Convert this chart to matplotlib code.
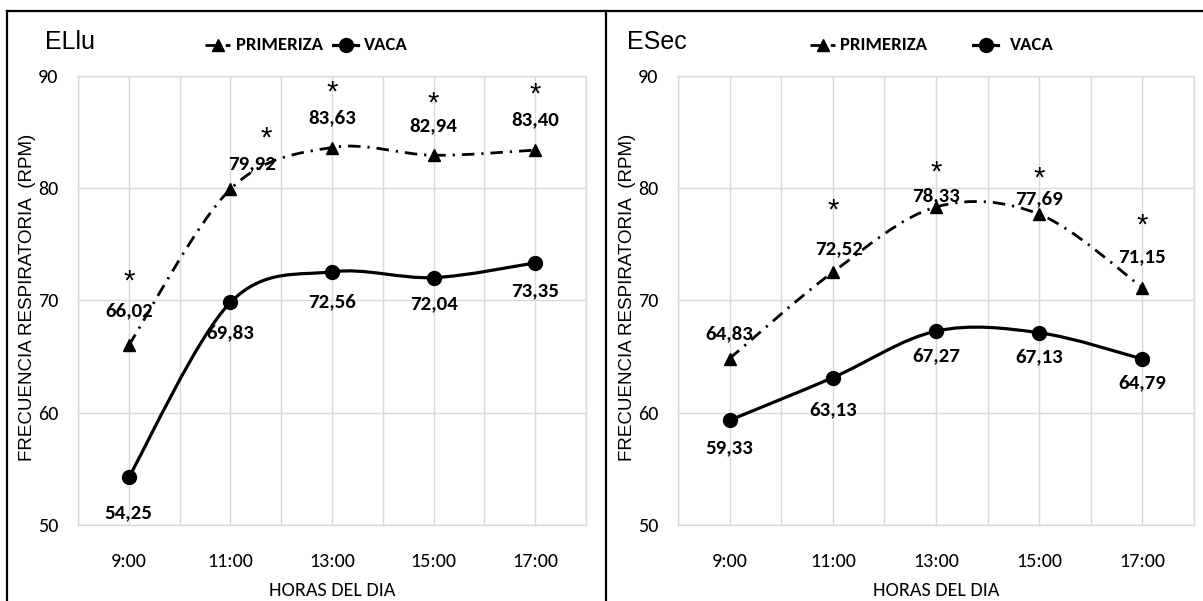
import os
import numpy as np
import matplotlib
matplotlib.use('Agg')
import matplotlib.pyplot as plt
from matplotlib.path import Path
from matplotlib.patches import PathPatch
from matplotlib.lines import Line2D
from matplotlib import font_manager
from matplotlib.font_manager import FontProperties

# ---------------- data ----------------
hours = ['9:00', '11:00', '13:00', '15:00', '17:00']
ellu_primeriza = [66.02, 79.92, 83.63, 82.94, 83.40]
ellu_vaca = [54.25, 69.83, 72.56, 72.04, 73.35]
esec_primeriza = [64.83, 72.52, 78.33, 77.69, 71.15]
esec_vaca = [59.33, 63.13, 67.27, 67.13, 64.79]
ellu_signif = [True, True, True, True, True]
esec_signif = [False, True, True, True, True]
y_ticks = [50, 60, 70, 80, 90]
panel_titles = ['ELlu', 'ESec']
series_names = ['PRIMERIZA', 'VACA']
ylabel_text = 'FRECUENCIA RESPIRATORIA  (RPM)'
xlabel_text = 'HORAS DEL DIA'

# ---------------- fonts ----------------
W, H = 1203, 601
files = {os.path.basename(f.fname).lower(): f.fname for f in font_manager.fontManager.ttflist}

candidates = [  # (regular file, bold file, size scale)
    ('carlito-regular.ttf', 'carlito-bold.ttf', 1.0),
    ('liberationsansnarrow-regular.ttf', 'liberationsansnarrow-bold.ttf', 0.93),
    ('robotocondensed-regular.ttf', 'robotocondensed-bold.ttf', 0.93),
    ('dejavusanscondensed.ttf', 'dejavusanscondensed-bold.ttf', 0.82),
]
NARROW_REG = NARROW_BOLD = None
SC = 0.86
for reg, bold, sc in candidates:
    if reg in files and bold in files:
        NARROW_REG, NARROW_BOLD, SC = files[reg], files[bold], sc
        break


def nfont(size, bold=False):
    if NARROW_REG is None:
        return FontProperties(family=['Liberation Sans', 'DejaVu Sans'], size=size * SC,
                              weight='bold' if bold else 'normal')
    return FontProperties(fname=NARROW_BOLD if bold else NARROW_REG, size=size * SC)


ARIAL = ['Liberation Sans', 'DejaVu Sans']
GRID = '#d9d9d9'
INK = 'black'

# label offsets (pixels) for each point
ellu_p_off = [(0, 34), (22, 25), (0, 30), (0, 30), (0, 30)]
ellu_p_star = [(0, 64), (36, 51), (0, 55), (0, 52), (0, 56)]
ellu_v_off = [(0, -35), (0, -30), (0, -30), (0, -26), (0, -28)]
esec_p_off = [(0, 25), (6, 24), (0, 11), (0, 15), (0, 31)]
esec_p_star = [(0, 58), (0, 62), (0, 34), (0, 36), (0, 62)]
esec_v_off = [(0, -27), (0, -32), (0, -25), (0, -24), (0, -24)]

panels = [
    dict(rect=(78, 76, 586, 525), title=panel_titles[0], title_x=45,
         prim=ellu_primeriza, vaca=ellu_vaca, signif=ellu_signif,
         p_off=ellu_p_off, p_star=ellu_p_star, v_off=ellu_v_off,
         ylab_x=28, leg=[(205, 236), (333, 364)]),
    dict(rect=(678, 76, 1194, 525), title=panel_titles[1], title_x=627,
         prim=esec_primeriza, vaca=esec_vaca, signif=esec_signif,
         p_off=esec_p_off, p_star=esec_p_star, v_off=esec_v_off,
         ylab_x=628, leg=[(810, 840), (973, 1010)]),
]


def fx(px):
    return px / W


def fy(py):
    return 1 - py / H


def fmt(v):
    return f'{v:.2f}'.replace('.', ',')


def smooth_path(xs, ys):
    pts = np.column_stack([xs, ys]).astype(float)
    n = len(pts)
    verts = [pts[0]]
    codes = [Path.MOVETO]
    for i in range(n - 1):
        p0 = pts[i - 1] if i > 0 else pts[i]
        p1 = pts[i]
        p2 = pts[i + 1]
        p3 = pts[i + 2] if i + 2 < n else pts[i + 1]
        c1 = p1 + (p2 - p0) / 6.0
        c2 = p2 - (p3 - p1) / 6.0
        verts += [c1, c2, p2]
        codes += [Path.CURVE4] * 3
    return Path(verts, codes)


PRIM_LS = (0, (4.5, 2.5, 0.8, 2.5))
PRIM_LW = 2.0
VACA_LW = 2.3

fig = plt.figure(figsize=(W / 100, H / 100), dpi=100)
fig.patch.set_facecolor('white')

x = np.arange(len(hours))

for p in panels:
    l, t, r, b = p['rect']
    ax = fig.add_axes([fx(l), fy(b), (r - l) / W, (b - t) / H])
    ax.set_xlim(-0.5, len(hours) - 0.5)
    ax.set_ylim(y_ticks[0], y_ticks[-1])
    ax.set_yticks(y_ticks)
    ax.set_xticks(x)
    ax.set_xticklabels(hours)
    ax.set_xticks(np.arange(-0.5, len(hours), 1.0), minor=True)
    ax.grid(True, which='both', axis='x', color=GRID, lw=1.0)
    ax.grid(True, which='major', axis='y', color=GRID, lw=1.0)
    ax.set_axisbelow(True)
    for s in ax.spines.values():
        s.set_color(GRID)
        s.set_linewidth(1.0)
    ax.tick_params(which='both', length=0)
    ax.tick_params(axis='y', pad=14)
    ax.tick_params(axis='x', pad=20)
    for lab in ax.get_xticklabels() + ax.get_yticklabels():
        lab.set_fontproperties(nfont(14.5))
        lab.set_color(INK)

    # lines
    ax.add_patch(PathPatch(smooth_path(x, p['prim']), fill=False, ec=INK,
                           lw=PRIM_LW, ls=PRIM_LS, capstyle='butt', zorder=3))
    ax.add_patch(PathPatch(smooth_path(x, p['vaca']), fill=False, ec=INK,
                           lw=VACA_LW, zorder=3))
    ax.plot(x, p['prim'], ls='none', marker='^', ms=9, color=INK, zorder=4)
    ax.plot(x, p['vaca'], ls='none', marker='o', ms=10, color=INK, zorder=4)

    # data labels
    for i in range(len(hours)):
        dx, dy = p['p_off'][i]
        ax.annotate(fmt(p['prim'][i]), (x[i], p['prim'][i]), xytext=(dx, dy),
                    textcoords='offset pixels', ha='center', va='center',
                    fontproperties=nfont(15, True), color=INK, zorder=5)
        if p['signif'][i]:
            sx, sy = p['p_star'][i]
            ax.annotate('*', (x[i], p['prim'][i]), xytext=(sx, sy),
                        textcoords='offset pixels', ha='center', va='center',
                        family=ARIAL, fontsize=21, color=INK, zorder=5)
        dx, dy = p['v_off'][i]
        ax.annotate(fmt(p['vaca'][i]), (x[i], p['vaca'][i]), xytext=(dx, dy),
                    textcoords='offset pixels', ha='center', va='center',
                    fontproperties=nfont(15, True), color=INK, zorder=5)

    # axis labels
    fig.text(fx(p['ylab_x']), fy(297), ylabel_text, rotation=90,
             ha='center', va='center', family=ARIAL, fontsize=13.5, color=INK)
    fig.text(fx((l + r) / 2), fy(591), xlabel_text, ha='center', va='center',
             fontproperties=nfont(14.5), color=INK)

    # panel title
    fig.text(fx(p['title_x']), fy(42), p['title'], ha='left', va='center',
             family=ARIAL, fontsize=18, color=INK)

    # legend (manual)
    (hx0, tx0), (hx1, tx1) = p['leg']
    ly = 45
    hl = 25
    fig.add_artist(Line2D([fx(hx0), fx(hx0 + hl)], [fy(ly), fy(ly)],
                          transform=fig.transFigure, color=INK, lw=PRIM_LW,
                          ls=(0, (3.5, 1.5, 0.8, 1.5))))
    fig.add_artist(Line2D([fx(hx0 + hl / 2)], [fy(ly)], transform=fig.transFigure,
                          marker='^', ms=9, color=INK, ls='none'))
    fig.text(fx(tx0), fy(ly), series_names[0], ha='left', va='center',
             fontproperties=nfont(13.5, True), color=INK)
    fig.add_artist(Line2D([fx(hx1), fx(hx1 + hl)], [fy(ly), fy(ly)],
                          transform=fig.transFigure, color=INK, lw=VACA_LW))
    fig.add_artist(Line2D([fx(hx1 + hl / 2)], [fy(ly)], transform=fig.transFigure,
                          marker='o', ms=10, color=INK, ls='none'))
    fig.text(fx(tx1), fy(ly), series_names[1], ha='left', va='center',
             fontproperties=nfont(13.5, True), color=INK)

# outer frame lines
fig.add_artist(Line2D([fx(7), 1.0], [fy(11), fy(11)], transform=fig.transFigure,
                      color=INK, lw=1.6))
fig.add_artist(Line2D([fx(7), fx(7)], [fy(11), 0], transform=fig.transFigure,
                      color=INK, lw=1.6))
fig.add_artist(Line2D([fx(606), fx(606)], [fy(11), 0], transform=fig.transFigure,
                      color=INK, lw=1.6))

fig.savefig('out.png', dpi=100, facecolor='white')
